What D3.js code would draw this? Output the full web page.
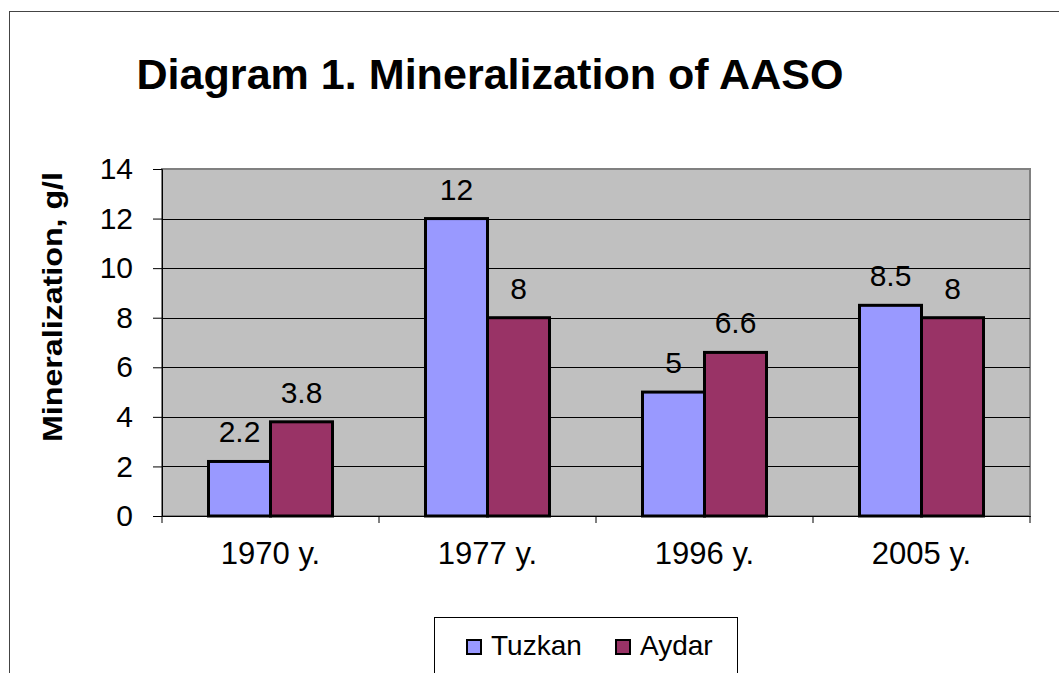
<!DOCTYPE html>
<html>
<head>
<meta charset="utf-8">
<script src="https://cdn.jsdelivr.net/npm/d3@7"></script>
<style>
  body { margin: 0; background: #fff; }
  text { font-family: "Liberation Sans", Arial, sans-serif; fill: #000; }
</style>
</head>
<body>
<div id="chart"></div>
<script>
// chart data
var years = ["1970 y.", "1977 y.", "1996 y.", "2005 y."];
var seriesNames = ["Tuzkan", "Aydar"];
var tuzkan = [2.2, 12, 5, 8.5];
var aydar = [3.8, 8, 6.6, 8];
var yTicks = [0, 2, 4, 6, 8, 10, 12, 14];
var colors = ["#9999FF", "#993366"];

var svgWidth = 1059;
var svgHeight = 673;

// plot area
var plot = {left: 162, top: 169, right: 1030, bottom: 516};

var svg = d3.select("#chart").append("svg")
    .attr("width", svgWidth)
    .attr("height", svgHeight);

// outer chart frame
svg.append("rect")
    .attr("x", 9.5).attr("y", 11.5)
    .attr("width", 1100).attr("height", 800)
    .attr("fill", "none")
    .attr("stroke", "#444")
    .attr("stroke-width", 1);

// title
svg.append("text")
    .attr("x", 490).attr("y", 89)
    .attr("text-anchor", "middle")
    .style("font-size", "42px")
    .style("font-weight", "bold")
    .attr("textLength", 707)
    .attr("lengthAdjust", "spacingAndGlyphs")
    .text("Diagram 1. Mineralization of AASO");

var xScale = d3.scaleBand()
    .domain(years)
    .range([plot.left, plot.right]);

var xSub = d3.scaleBand()
    .domain(seriesNames)
    .range([0, xScale.bandwidth()])
    .paddingInner(0)
    .paddingOuter(0.75);

var yScale = d3.scaleLinear()
    .domain([0, 14])
    .range([plot.bottom, plot.top]);

// plot background
svg.append("rect")
    .attr("x", plot.left).attr("y", plot.top)
    .attr("width", plot.right - plot.left)
    .attr("height", plot.bottom - plot.top)
    .attr("fill", "#C0C0C0")
    .attr("stroke", "#808080")
    .attr("stroke-width", 2);

// gridlines
svg.append("g").selectAll("line")
    .data(yTicks.filter(d => d > 0 && d < 14))
    .enter()
    .append("line")
    .attr("x1", plot.left).attr("x2", plot.right)
    .attr("y1", d => Math.round(yScale(d)) + 0.5)
    .attr("y2", d => Math.round(yScale(d)) + 0.5)
    .attr("stroke", "#000")
    .attr("stroke-width", 1);

// y axis
var yAxis = d3.axisLeft(yScale)
    .tickValues(yTicks)
    .tickSize(9)
    .tickPadding(20);

var yAxisG = svg.append("g")
    .attr("transform", `translate(${plot.left}, 0)`)
    .call(yAxis);
yAxisG.select(".domain").attr("stroke", "#000");
yAxisG.selectAll(".tick line").attr("stroke", "#000");
yAxisG.selectAll("text")
    .style("font-size", "30px")
    .style("font-family", "'Liberation Sans', Arial, sans-serif");

// x axis
var xAxisG = svg.append("g")
    .attr("transform", `translate(0, ${plot.bottom})`)
    .call(d3.axisBottom(xScale).tickSize(0).tickPadding(26));
xAxisG.select(".domain").attr("stroke", "#000");
xAxisG.selectAll("text")
    .style("font-size", "31px")
    .style("font-family", "'Liberation Sans', Arial, sans-serif");

// x tick marks at category boundaries
var boundaries = years.map(d => xScale(d)).concat([plot.right]);
svg.append("g").selectAll("line")
    .data(boundaries)
    .enter()
    .append("line")
    .attr("x1", d => d).attr("x2", d => d)
    .attr("y1", plot.bottom).attr("y2", plot.bottom + 7)
    .attr("stroke", "#000");

// bars
var rows = years.map(function(y, i) {
    return {year: y, values: [
        {name: "Tuzkan", value: tuzkan[i], color: colors[0]},
        {name: "Aydar", value: aydar[i], color: colors[1]}
    ]};
});

var groups = svg.append("g").selectAll("g")
    .data(rows)
    .enter()
    .append("g")
    .attr("transform", d => `translate(${xScale(d.year)}, 0)`);

groups.selectAll("rect")
    .data(d => d.values)
    .enter()
    .append("rect")
    .attr("x", d => xSub(d.name))
    .attr("y", d => yScale(d.value))
    .attr("width", xSub.bandwidth())
    .attr("height", d => plot.bottom - yScale(d.value))
    .attr("fill", d => d.color)
    .attr("stroke", "#000")
    .attr("stroke-width", 3);

// value labels
groups.selectAll("text")
    .data(d => d.values)
    .enter()
    .append("text")
    .attr("x", d => xSub(d.name) + xSub.bandwidth() / 2)
    .attr("y", d => yScale(d.value) - 19)
    .attr("text-anchor", "middle")
    .style("font-size", "30px")
    .text(d => d.value);

// y axis label
svg.append("text")
    .attr("transform", "translate(62, 307) rotate(-90)")
    .attr("text-anchor", "middle")
    .style("font-size", "28px")
    .style("font-weight", "bold")
    .attr("textLength", 270)
    .attr("lengthAdjust", "spacingAndGlyphs")
    .text("Mineralization, g/l");

// legend
var legend = svg.append("g");
legend.append("rect")
    .attr("x", 434.5).attr("y", 617.5)
    .attr("width", 303).attr("height", 100)
    .attr("fill", "#fff")
    .attr("stroke", "#000")
    .attr("stroke-width", 1);

var legendX = [467, 616];
var items = legend.selectAll("g.item")
    .data(seriesNames)
    .enter()
    .append("g")
    .attr("transform", (d, i) => `translate(${legendX[i]}, 640)`);

items.append("rect")
    .attr("width", 14).attr("height", 14)
    .attr("fill", (d, i) => colors[i])
    .attr("stroke", "#000")
    .attr("stroke-width", 2);

items.append("text")
    .attr("x", 24).attr("y", 15)
    .style("font-size", "28px")
    .text(d => d);
</script>
</body>
</html>
